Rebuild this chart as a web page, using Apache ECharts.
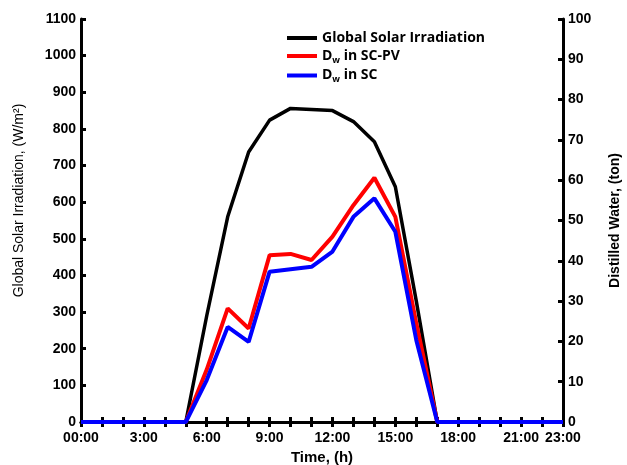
<!DOCTYPE html>
<html><head><meta charset="utf-8">
<script src="https://cdn.jsdelivr.net/npm/echarts@6/dist/echarts.min.js"></script>
<style>html,body{margin:0;padding:0;background:#fff}#c{width:627px;height:465px}</style>
</head><body><div id="c"></div>
<script>
var hours = ['00:00','1:00','2:00','3:00','4:00','5:00','6:00','7:00','8:00','9:00','10:00','11:00','12:00','13:00','14:00','15:00','16:00','17:00','18:00','19:00','20:00','21:00','22:00','23:00'];
var shownLabels = [0,3,6,9,12,15,18,21,23];
var irradiation = [0,0,0,0,0,0,290,560,737,824,856,853,850,820,765,642,330,0,0,0,0,0,0,0];
var dwSCPV = [0,0,0,0,0,0,13,28.2,23.2,41.4,41.7,40.2,46,53.8,60.6,50.9,24.5,0,0,0,0,0,0,0];
var dwSC = [0,0,0,0,0,0,10.4,23.6,19.9,37.3,37.9,38.5,42.3,50.9,55.5,47.2,20.3,0,0,0,0,0,0,0];

var lab = {color:'#000', fontFamily:'"Liberation Sans", Arial', fontWeight:'bold', fontSize:14};
var plain = function(v){ return String(v); };
var chart = echarts.init(document.getElementById('c'));
chart.setOption({
  animation:false,
  grid:{left:81,right:64,top:19,bottom:43,containLabel:false,outerBoundsMode:'none'},
  legend:{
    orient:'vertical', left:282, top:26, itemWidth:30, itemHeight:4, itemGap:4,
    icon:'rect',
    textStyle:{fontFamily:'"Open Sans"', fontWeight:'bold', fontSize:14, color:'#000',
      rich:{sub:{fontFamily:'"Open Sans"', fontWeight:'bold', fontSize:9, padding:[8,0,0,0], color:'#000'},
            n:{fontFamily:'"Open Sans"', fontWeight:'bold', fontSize:14, color:'#000'}}},
    formatter:function(n){
      if(n==='Global Solar Irradiation') return '{n|Global Solar Irradiation}';
      if(n==='Dw in SC-PV') return '{n|D}{sub|w}{n| in SC-PV}';
      return '{n|D}{sub|w}{n| in SC}';
    },
    data:['Global Solar Irradiation','Dw in SC-PV','Dw in SC']
  },
  xAxis:[{
    type:'category', data:hours, boundaryGap:false, position:'bottom',
    name:'Time, (h)', nameLocation:'middle', nameGap:28,
    nameTextStyle:{fontFamily:'"Liberation Sans", Arial', fontWeight:'bold', fontSize:15, color:'#000'},
    axisLine:{lineStyle:{color:'#000', width:3}},
    axisTick:{inside:true, length:5, interval:0, lineStyle:{color:'#000', width:3}},
    axisLabel:Object.assign({interval:function(i){return shownLabels.indexOf(i)>=0;}, margin:9, showMaxLabel:true}, lab),
    splitLine:{show:false}
  },{
    type:'category', data:hours, boundaryGap:false, position:'top',
    axisLine:{lineStyle:{color:'#000', width:3}},
    axisTick:{inside:true, length:5, interval:0, lineStyle:{color:'#000', width:3}},
    axisLabel:{show:false}, splitLine:{show:false}
  }],
  yAxis:[{
    type:'value', min:0, max:1100, interval:100, position:'left',
    name:'Global Solar Irradiation, (W/m²)', nameLocation:'middle', nameGap:55,
    nameTextStyle:{fontFamily:'"Liberation Sans", Arial', fontSize:14, color:'#000', padding:[0,0,0,40]},
    axisLine:{show:true, lineStyle:{color:'#000', width:3}},
    axisTick:{show:true, inside:true, length:5, lineStyle:{color:'#000', width:3}},
    axisLabel:Object.assign({margin:5, formatter:plain}, lab),
    splitLine:{show:false}
  },{
    type:'value', min:0, max:100, interval:10, position:'right',
    name:'Distilled Water, (ton)', nameLocation:'middle', nameGap:45,
    nameTextStyle:{fontFamily:'"Liberation Sans", Arial', fontWeight:'bold', fontSize:14, color:'#000'},
    axisLine:{show:true, lineStyle:{color:'#000', width:3}},
    axisTick:{show:true, inside:true, length:5, lineStyle:{color:'#000', width:3}},
    axisLabel:Object.assign({margin:5, formatter:plain}, lab),
    splitLine:{show:false}
  }],
  series:[
    {name:'Global Solar Irradiation', type:'line', data:irradiation, yAxisIndex:0, xAxisIndex:0,
     showSymbol:false, lineStyle:{color:'#000', width:3.5}, itemStyle:{color:'#000'}},
    {name:'Dw in SC-PV', type:'line', data:dwSCPV, yAxisIndex:1, xAxisIndex:0,
     showSymbol:false, lineStyle:{color:'#ff0000', width:4}, itemStyle:{color:'#ff0000'}},
    {name:'Dw in SC', type:'line', data:dwSC, yAxisIndex:1, xAxisIndex:0,
     showSymbol:false, lineStyle:{color:'#0000ff', width:4}, itemStyle:{color:'#0000ff'}}
  ]
});
</script></body></html>
